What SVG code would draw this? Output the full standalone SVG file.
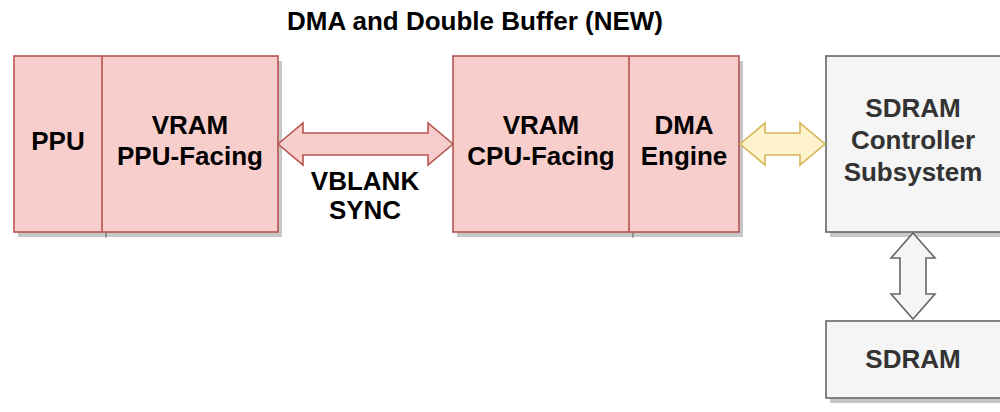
<svg xmlns="http://www.w3.org/2000/svg" width="1000" height="412" viewBox="0 0 1000 412">
  <style>
    .lbl { font-family: "Liberation Sans", Arial, Helvetica, sans-serif; font-weight: bold; font-size: 26px; text-anchor: middle; }
    .dark { fill: #000000; }
    .grey { fill: #333333; }
    .pink { fill: #f8cecc; stroke: #b85450; stroke-width: 1.6; }
    .gbox { fill: #f5f5f5; stroke: #666666; stroke-width: 1.6; }
    .shadow { fill: #000000; opacity: 0.22; }
    .shline { stroke: #000000; stroke-opacity: 0.35; stroke-width: 1.6; fill: none; }
    .divider { stroke: #b85450; stroke-width: 1.6; fill: none; }
  </style>

  <rect width="1000" height="412" fill="#ffffff"/>

  <!-- title -->
  <text class="lbl dark" x="475" y="30">DMA and Double Buffer (NEW)</text>

  <!-- PPU side: PPU + PPU-facing VRAM -->
  <g id="ppu-block">
    <rect class="shadow" x="18" y="61" width="264" height="176"/>
    <line class="shline" x1="106" y1="61" x2="106" y2="238"/>
    <rect class="pink" x="14" y="56" width="264" height="176"/>
    <line class="divider" x1="102" y1="56" x2="102" y2="232"/>
    <text class="lbl dark" x="58" y="150">PPU</text>
    <text class="lbl dark" x="190" y="134">VRAM</text>
    <text class="lbl dark" x="190" y="165">PPU-Facing</text>
  </g>

  <!-- CPU side: CPU-facing VRAM + DMA engine -->
  <g id="cpu-block">
    <rect class="shadow" x="457" y="61" width="286" height="176"/>
    <line class="shline" x1="633" y1="61" x2="633" y2="238"/>
    <rect class="pink" x="453" y="56" width="286" height="176"/>
    <line class="divider" x1="629" y1="56" x2="629" y2="232"/>
    <text class="lbl dark" x="541" y="134">VRAM</text>
    <text class="lbl dark" x="541" y="165">CPU-Facing</text>
    <text class="lbl dark" x="684" y="134">DMA</text>
    <text class="lbl dark" x="684" y="165">Engine</text>
  </g>

  <!-- SDRAM controller -->
  <g id="sdram-controller">
    <rect class="shadow" x="830" y="61" width="175" height="176"/>
    <rect class="gbox" x="826" y="56" width="175" height="176"/>
    <text class="lbl grey" x="913" y="117">SDRAM</text>
    <text class="lbl grey" x="913" y="149">Controller</text>
    <text class="lbl grey" x="913" y="181">Subsystem</text>
  </g>

  <!-- SDRAM device -->
  <g id="sdram">
    <rect class="shadow" x="830" y="326" width="175" height="77"/>
    <rect class="gbox" x="826" y="321" width="175" height="77"/>
    <text class="lbl grey" x="913" y="368">SDRAM</text>
  </g>

  <!-- connectors -->
  <g id="connectors" stroke-width="1.6" stroke-linejoin="miter">
    <!-- VBLANK sync between the two VRAM halves -->
    <path fill="#f8cecc" stroke="#b85450"
          d="M278,144 L303,123 L303,133 L428,133 L428,123 L453,144 L428,165 L428,155 L303,155 L303,165 Z"/>
    <text class="lbl dark" x="365" y="190" stroke="none">VBLANK</text>
    <text class="lbl dark" x="365" y="219" stroke="none">SYNC</text>
    <!-- DMA engine to SDRAM controller -->
    <path fill="#fff2cc" stroke="#d6b656"
          d="M740,144 L765,123 L765,133 L800,133 L800,123 L825,144 L800,165 L800,155 L765,155 L765,165 Z"/>
    <!-- SDRAM controller to SDRAM -->
    <path fill="#f5f5f5" stroke="#666666"
          d="M913,233 L935,258 L926,258 L926,294 L935,294 L913,319 L891,294 L900,294 L900,258 L891,258 Z"/>
  </g>
</svg>
